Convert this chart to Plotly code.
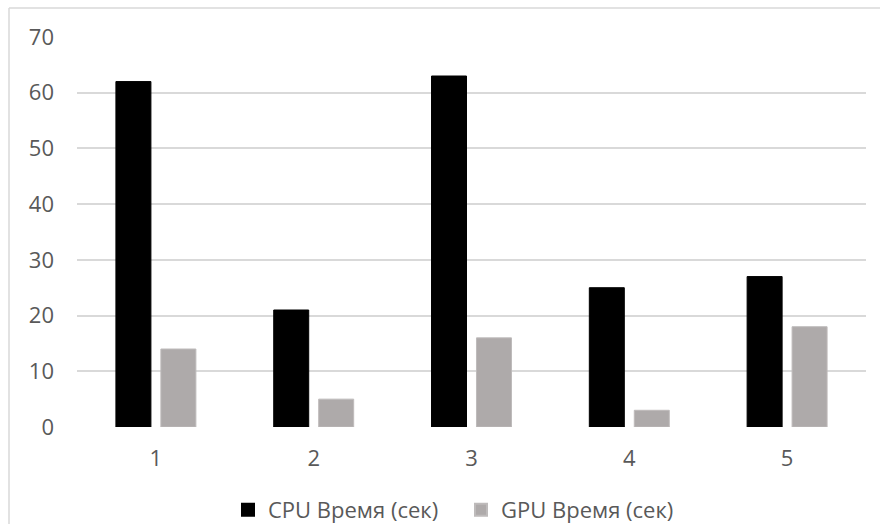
import plotly.graph_objects as go

categories = ["1", "2", "3", "4", "5"]
cpu_time = [62, 21, 63, 25, 27]
gpu_time = [14, 5, 16, 3, 18]
y_ticks = [0, 10, 20, 30, 40, 50, 60, 70]

W, H = 880, 524
ML, MR, MT, MB = 77, 14, 37, 97
PW, PH = W - ML - MR, H - MT - MB

font = dict(family="Open Sans, Noto Sans, sans-serif", size=22, color="#595959")

fig = go.Figure()
fig.add_trace(go.Bar(
    x=categories, y=cpu_time, name="CPU Время (сек)",
    marker=dict(color="#000000", line=dict(color="#000000", width=1)),
))
fig.add_trace(go.Bar(
    x=categories, y=gpu_time, name="GPU Время (сек)",
    marker=dict(color="#AEAAAA", line=dict(color="#BEBBBB", width=1)),
))


def px_x(p):
    return (p - ML) / PW


def px_y(p):
    return (H - MB - p) / PH


# frame lines on the left and top edges
fig.add_shape(type="line", xref="paper", yref="paper",
              x0=px_x(9), x1=px_x(W + 2), y0=px_y(8), y1=px_y(8),
              line=dict(color="#D9D9D9", width=1.5))
fig.add_shape(type="line", xref="paper", yref="paper",
              x0=px_x(9), x1=px_x(9), y0=px_y(8), y1=px_y(H + 2),
              line=dict(color="#D9D9D9", width=1.5))

fig.update_layout(
    width=W, height=H,
    margin=dict(l=ML, r=MR, t=MT, b=MB, pad=0, autoexpand=False),
    paper_bgcolor="white", plot_bgcolor="white",
    barmode="group", bargap=0.43, bargroupgap=0.222,
    font=font,
    showlegend=True,
    legend=dict(orientation="h", x=px_x(228), xanchor="left", y=px_y(510), yanchor="middle",
                font=font, itemwidth=30, traceorder="normal",
                entrywidth=188, entrywidthmode="pixels",
                itemsizing="constant"),
)
fig.update_xaxes(showgrid=False, zeroline=False, showline=False, ticks="",
                 tickfont=font, ticklabelstandoff=16, automargin=False)
fig.update_yaxes(range=[0, 70], tickvals=y_ticks, showgrid=True,
                 gridcolor="#D9D9D9", gridwidth=1.5, zeroline=False,
                 showline=False, ticks="", tickfont=font, ticklabelstandoff=22,
                 automargin=False)

fig.write_html("out.html")
